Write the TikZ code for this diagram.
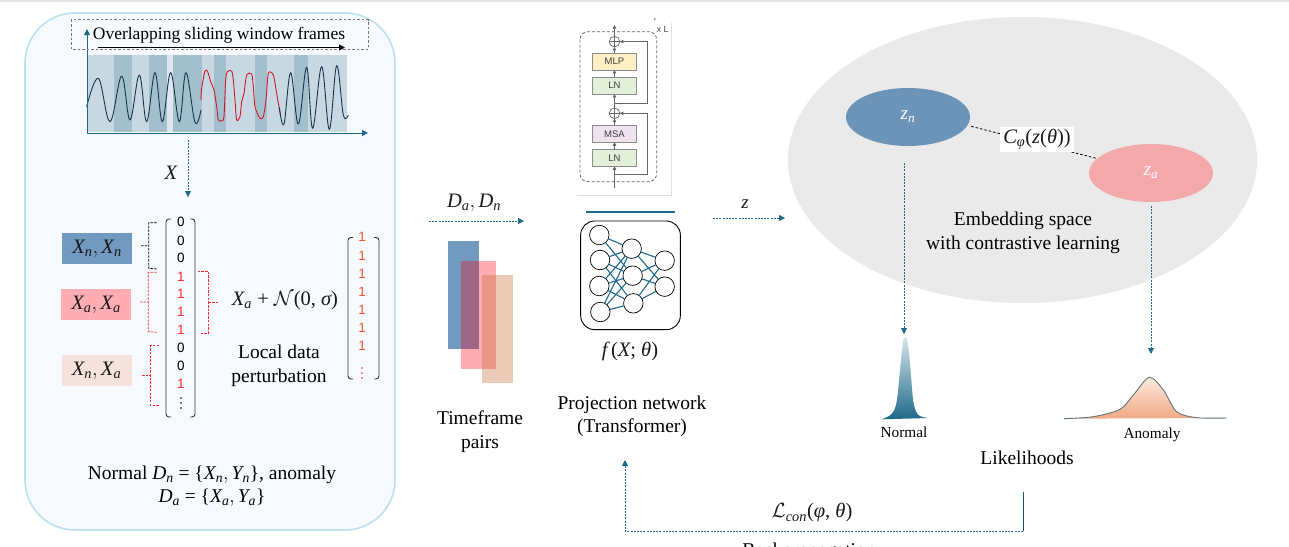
\RequirePackage{fix-cm}
\documentclass[tikz,border=0pt]{standalone}
\usepackage{amsmath}
\usepackage{fontspec}
\setmainfont{Liberation Serif}
\newfontfamily\sansf{Liberation Sans}
\usetikzlibrary{arrows.meta,shapes.geometric,calc}
\definecolor{teal}{HTML}{1F6A8A}
\definecolor{bluebox}{HTML}{7299BF}
\definecolor{pinkbox}{HTML}{FFADB3}
\definecolor{tanbox}{HTML}{F5E2DC}
\definecolor{redb}{HTML}{FF2A2A}
\definecolor{panelfill}{RGB}{246,250,254}
\definecolor{panelline}{HTML}{BCE0F0}
\definecolor{band}{RGB}{200,216,227}
\definecolor{bandl}{RGB}{222,232,240}
\definecolor{bandd}{RGB}{163,191,206}
\definecolor{sigk}{RGB}{20,55,75}
\definecolor{sigr}{RGB}{205,25,40}
\definecolor{orng}{RGB}{240,85,40}
\definecolor{ovpink}{RGB}{255,0,17}
\definecolor{ovtan}{RGB}{198,106,52}
\definecolor{mlpc}{RGB}{255,239,196}
\definecolor{lnc}{RGB}{227,239,217}
\definecolor{msac}{RGB}{239,227,239}
\definecolor{embc}{RGB}{234,234,234}
\definecolor{znc}{RGB}{108,147,184}
\definecolor{zac}{RGB}{243,168,169}
\definecolor{ntop}{RGB}{215,230,236}
\definecolor{atop}{RGB}{252,233,222}
\definecolor{abot}{RGB}{240,170,132}
\definecolor{aline}{RGB}{95,115,125}
\newcommand{\fsz}[1]{\fontsize{#1}{#1}\selectfont}
\newcommand{\mi}[1]{\text{\itshape #1}}
\newcommand{\up}[1]{\text{\upshape #1}}
\tikzset{
  tealdash/.style={draw=teal,line width=.8pt,dash pattern=on 2pt off 1.2pt},
  tealarrow/.style={tealdash,-{Triangle[length=6pt,width=6pt,fill=teal]}},
  tealaxis/.style={draw=teal,line width=1pt,-{Triangle[length=6pt,width=6pt,fill=teal]}},
  lab/.style={inner sep=0pt,outer sep=0pt,align=center,text=black},
  big/.style={lab,font=\fsz{19.5}},
  mth/.style={lab,font=\fsz{20.5},text=black!90},
  labelbox/.style={inner sep=0pt,outer sep=0pt,minimum width=70pt,minimum height=31pt,font=\fsz{20.5},text=black!90},
  brace/.style={line width=.8pt,dash pattern=on 2.5pt off 1.2pt},
  matb/.style={draw=black!80,line width=.9pt,rounded corners=3pt},
  dig/.style={lab,font=\sansf\fsz{13.5}},
  layerbox/.style={draw=black!45,line width=.7pt,inner sep=0pt,outer sep=0pt,minimum width=44.3pt,minimum height=16.5pt,font=\sansf\fsz{9.5},text=black!75},
  thinup/.style={draw=black!60,line width=.7pt,-{Triangle[length=3.5pt,width=3.5pt,fill=black!60]}},
  skipup/.style={draw=black!60,line width=1pt,-{Triangle[length=3.5pt,width=3.5pt,fill=black!60]}},
  neuron/.style={circle,draw=black,line width=.7pt,fill=white,minimum size=19.5pt,inner sep=0pt,outer sep=0pt},
  synapse/.style={draw=teal,line width=1.1pt},
  curvel/.style={line width=.9pt,line join=round},
}
\begin{document}
\begin{tikzpicture}[x=1pt,y=-1pt]
\useasboundingbox (0,0) rectangle (1289,546);
\fill[white] (0,0) rectangle (1289,546);
\fill[black!10] (0,0) rectangle (1289,1.5);

% left panel
\draw[draw=panelline,fill=panelfill,line width=1.6pt,rounded corners=50pt] (25,13) rectangle (395,530);

% time-series
\begin{scope}[shift={(20,0)},x=.33333pt,y=-.33333pt]
  \fill[band] (201,165) rectangle (980,397);
  \fill[bandl] (440,165) rectangle (459,397);
  \foreach \a/\b in {282/337,387/440,459/545,582/617,705/740,822/863}
    \fill[bandd] (\a,165) rectangle (\b,397);
  \draw[curvel,draw=sigk] plot[smooth,tension=.62] coordinates {(200,320)(235,235)(270,365)(305,228)(330,360)(358,225)(380,365)(405,218)(427,365)(452,218)(478,365)(498,218)(525,367)(543,330)};
  \draw[curvel,draw=sigr] plot[smooth,tension=.45] coordinates {(543,300)(545,265)(555,213)(563,215)(572,245)(582,270)(590,320)(595,360)(605,362)(612,350)(617,240)(622,215)(635,213)(640,240)(645,300)(650,360)(660,350)(665,305)(672,280)(680,225)(695,222)(700,260)(705,320)(720,355)(730,350)(738,300)(745,220)(760,225)(770,280)(782,350)};
  \draw[curvel,draw=sigk] plot[smooth,tension=.62] coordinates {(778,322)(792,372)(812,218)(835,372)(860,202)(878,385)(905,200)(928,388)(950,197)(970,345)(985,345)};
\end{scope}
\coordinate (orig) at (87,133);
\coordinate (ytop) at (87,29);
\coordinate (xend) at (368,133);
\draw[tealaxis] (orig) -- (ytop);
\draw[tealaxis] (orig) -- (xend);
\draw[draw=black!55,line width=1pt,dash pattern=on 2.5pt off 2pt] (71,19.5) rectangle (368,49);
\node[lab,font=\fsz{17.5}] (overl) at (219,35.5) {Overlapping sliding window frames};
\coordinate (ola) at (98,47.5);
\coordinate (olb) at (345,47.5);
\draw[black,line width=.9pt,-{Triangle[length=6pt,width=6pt]}] (ola) -- (olb);

% X arrow
\coordinate (xa) at (188,140);
\coordinate (xb) at (188,197);
\draw[tealarrow] (xa) -- (xb);
\node[mth] (xlab) at (171,173) {$\mi{X}$};

% label boxes
\node[labelbox,fill=bluebox] (b1) at (97,248.5) {$\mi{X}_{\mi{n}},\mi{X}_{\mi{n}}$};
\node[labelbox,fill=pinkbox] (b2) at (96,304.5) {$\mi{X}_{\mi{a}},\mi{X}_{\mi{a}}$};
\node[labelbox,fill=tanbox] (b3) at (96.5,370.5) {$\mi{X}_{\mi{n}},\mi{X}_{\mi{a}}$};

% braces
\begin{scope}[shift={(40,200)},x=.33333pt,y=-.33333pt]
  \draw[brace,black] (350,68)--(326,68)--(326,205)--(350,207) (303,137)--(326,137);
  \draw[brace,redb] (350,217)--(325,217)--(325,395)--(350,397) (300,306)--(325,306);
  \draw[brace,redb] (357,437)--(331,437)--(331,615)--(357,615) (306,525)--(331,525);
  \draw[brace,redb] (473,215)--(506,215)--(506,399)--(480,399) (506,306)--(535,306);
\end{scope}

% matrix 1
\draw[matb] (171,219)--(166,219)--(166,417)--(171,417);
\draw[matb] (190,219)--(195,219)--(195,417)--(190,417);
\foreach \y/\t/\c in {222.3/0/black,240.7/0/black,258.3/0/black,276.7/1/redb,294.3/1/redb,312.3/1/redb,330.3/1/redb,348.3/0/black,366.3/0/black,384.3/1/redb}
  \node[dig,text=\c] at (181,\y) {\t};
\foreach \y in {398,403,408} \fill[black] (181,\y) circle (.9pt);

% matrix 2
\draw[matb] (353,237.5)--(348,237.5)--(348,379)--(353,379);
\draw[matb] (374,237.5)--(379,237.5)--(379,379)--(374,379);
\foreach \y in {237,256,274,292,310,328,346}
  \node[dig,text=orng] at (362,\y) {1};
\foreach \y in {368,373,378} \fill[redb] (362,\y) circle (.9pt);

\node[mth] (pert) at (285,300.5) {$\mi{X}_{\mi{a}}\up{ + }\mathcal{N}\up{(0, }\mi{σ}\up{)}$};
\node[big] (ldp) at (279,366) {Local data\\[4pt]perturbation};
\node[lab,font=\fsz{19.5}] (ndn) at (212,486) {Normal $\mi{D}_{\mi{n}}\up{ = \{}\mi{X}_{\mi{n}},\mi{Y}_{\mi{n}}\up{\}}$, anomaly\\[4pt]$\mi{D}_{\mi{a}}\up{ = \{}\mi{X}_{\mi{a}},\mi{Y}_{\mi{a}}\up{\}}$};

% D arrow and rectangles
\node[mth] (dlab) at (474,203) {$\mi{D}_{\mi{a}},\mi{D}_{\mi{n}}$};
\coordinate (da) at (429,221);
\coordinate (db) at (524,221);
\draw[tealarrow] (da) -- (db);
\fill[bluebox] (448,241) rectangle (479,349);
\fill[ovpink,opacity=.32] (461,261) rectangle (496,369);
\fill[ovtan,opacity=.35] (482,275) rectangle (513,383);
\node[big] (tfp) at (480,431.5) {Timeframe\\[4pt]pairs};

% Transformer block
\begin{scope}[shift={(560,10)},x=.33333pt,y=-.33333pt]
  \draw[black!12,line width=.6pt] (50,555)--(335,555)--(335,40);
  \draw[draw=black!60,line width=.8pt,dash pattern=on 3pt off 2pt,rounded corners=8pt] (60,65) rectangle (290,515);
  \draw[black!60,line width=.8pt] (283,30)--(286,25);
  \node[layerbox,fill=mlpc] (mlp) at (163.5,155) {MLP};
  \node[layerbox,fill=lnc] (ln2) at (163.5,227) {LN};
  \node[layerbox,fill=msac] (msa) at (163.5,372) {MSA};
  \node[layerbox,fill=lnc] (ln1) at (163.5,444) {LN};
  \node[circle,draw=black!60,line width=.7pt,minimum size=10.6pt,inner sep=0pt,outer sep=0pt] (p2) at (163.5,95) {};
  \node[circle,draw=black!60,line width=.7pt,minimum size=10.6pt,inner sep=0pt,outer sep=0pt] (p1) at (163.5,310) {};
  \draw[black!60,line width=.6pt] (p2.north)--(p2.south) (p2.west)--(p2.east) (p1.north)--(p1.south) (p1.west)--(p1.east);
  \coordinate (tin) at (163.5,535);
  \coordinate (tout) at (163.5,45);
  \coordinate (sk1) at (163.5,493);
  \coordinate (sk2) at (163.5,280);
  \draw[thinup] (tin) -- (ln1.south);
  \draw[thinup] (ln1.north) -- (msa.south);
  \draw[thinup] (msa.north) -- (p1.south);
  \draw[thinup] (p1.north) -- (ln2.south);
  \draw[thinup] (ln2.north) -- (mlp.south);
  \draw[thinup] (mlp.north) -- (p2.south);
  \draw[thinup] (p2.north) -- (tout);
  \draw[skipup] (sk1) -- (262,493) -- (262,310) -- (p1.east);
  \draw[skipup] (sk2) -- (262,280) -- (262,95) -- (p2.east);
  \node[lab,font=\sansf\fsz{9},text=black!70] (xl) at (308,57) {x L};
\end{scope}

% NN block
\begin{scope}[shift={(560,205)},x=.33333pt,y=-.33333pt]
  \coordinate (ba) at (78,20);
  \coordinate (bb) at (345,20);
  \draw[draw=teal,line width=1.7pt] (ba) -- (bb);
  \draw[black,line width=.9pt,rounded corners=14pt] (62,48) rectangle (361,374);
  \foreach \n/\x/\y in {a1/118/90,a2/120/165,a3/118/243,a4/121/321,c1/215/131,c2/218/212,c3/220/295,d1/314/167,d2/314/245}
    \node[neuron] (\n) at (\x,\y) {};
  \foreach \p/\q in {a1/c1,a1/c2,a2/c1,a2/c2,a2/c3,a3/c1,a3/c2,a3/c3,a4/c1,a4/c2,a4/c3,c1/d1,c1/d2,c2/d1,c2/d2,c3/d1,c3/d2}
    \draw[synapse] (\p) -- (\q);
\end{scope}
\node[mth] (fx) at (630,351.5) {$\mi{f}\,\up{(}\mi{X}\up{; }\mi{θ}\up{)}$};
\node[big] (proj) at (632,416.5) {Projection network\\[4pt](Transformer)};

% z arrow
\coordinate (za1) at (713,218);
\coordinate (za2) at (785,218);
\draw[tealarrow] (za1) -- (za2);
\node[mth,font=\fsz{19}] (zlab) at (745,204) {$\mi{z}$};

% Embedding space
\node[ellipse,fill=embc,minimum width=469pt,minimum height=286pt,inner sep=0pt,outer sep=0pt] (emb) at (1022.5,160) {};
\node[ellipse,fill=znc,minimum width=124pt,minimum height=58pt,inner sep=0pt,outer sep=0pt,font=\fsz{19},text=white] (zn) at (908,117) {$\mi{z}_{\mi{n}}$};
\node[ellipse,fill=zac,minimum width=124pt,minimum height=58pt,inner sep=0pt,outer sep=0pt,font=\fsz{19},text=white] (za) at (1151,173) {$\mi{z}_{\mi{a}}$};
\draw[black,line width=.8pt,dash pattern=on 2.5pt off 2pt,shorten <=4pt] (zn.-8) -- (za.165);
\node[fill=white,inner sep=0pt,minimum width=74pt,minimum height=25pt,font=\fsz{20.5},text=black!90] (cphi) at (1037,139) {$\mi{C}_{\mi{φ}}\up{(}\mi{z}\up{(}\mi{θ}\up{))}$};
\node[big] (embt) at (1023,233) {Embedding space\\[4pt]with contrastive learning};

% arrows to likelihoods
\coordinate (na) at (904,163);
\coordinate (nb) at (904,334);
\draw[tealarrow] (na) -- (nb);
\coordinate (aa) at (1151,206);
\coordinate (ab) at (1151,354);
\draw[tealarrow] (aa) -- (ab);

% likelihood curves
\begin{scope}[shift={(860,320)},x=.33333pt,y=-.33333pt]
  \shade[top color=ntop,bottom color=teal] plot[smooth,tension=.5] coordinates {(65,298)(95,282)(110,245)(122,130)(130,60)(136,52)(142,60)(150,130)(160,245)(175,285)(205,294)} -- cycle;
  \shade[top color=atop,bottom color=abot] plot[smooth,tension=.5] coordinates {(612,296)(700,290)(780,268)(820,225)(868,172)(910,210)(950,275)(1010,293)(1100,294)} -- cycle;
  \draw[draw=aline,line width=.9pt] plot[smooth,tension=.5] coordinates {(612,296)(700,290)(780,268)(820,225)(868,172)(910,210)(950,275)(1010,293)(1100,294)};
\end{scope}
\node[lab,font=\fsz{15.3}] (nl) at (904,432) {Normal};
\node[lab,font=\fsz{15.3}] (al) at (1152,434.5) {Anomaly};
\node[big] (lik) at (1027,458) {Likelihoods};

% back-propagation
\coordinate (bpa) at (1023,491.5);
\coordinate (bpb) at (1023,531);
\coordinate (bpc) at (625,531);
\coordinate (bpd) at (625,460);
\draw[draw=teal!80!black,line width=1pt] (bpa) -- (bpb);
\draw[tealarrow] (bpb) -- (bpc) -- (bpd);
\node[mth] (lcon) at (812,513) {$\mathcal{L}_{\mi{con}}\up{(}\mi{φ}\up{, }\mi{θ}\up{)}$};
\node[big,anchor=base] (bp) at (809,556) {Backpropagation};
\end{tikzpicture}
\end{document}
